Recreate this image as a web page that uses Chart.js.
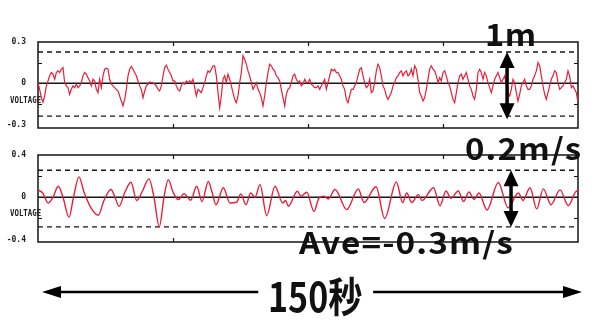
<!DOCTYPE html>
<html><head><meta charset="utf-8">
<script src="https://cdn.jsdelivr.net/npm/chart.js@4/dist/chart.umd.min.js"></script>
<style>
html,body{margin:0;padding:0;background:#fff;}
#wrap{position:relative;width:600px;height:322px;overflow:hidden;background:#fff;}
canvas{position:absolute;left:0;top:0;}
.lbl{position:absolute;font-family:'Noto Sans CJK JP','Noto Sans',sans-serif;font-weight:700;color:#111;line-height:1;white-space:nowrap;transform-origin:left top;}
.volt{position:absolute;font-family:'DejaVu Sans Mono',monospace;font-weight:bold;font-size:9px;color:#222;transform:scaleX(0.82);transform-origin:left center;line-height:1;}
</style></head><body>
<div id="wrap">
<canvas id="c1" width="600" height="322"></canvas>
<canvas id="c2" width="600" height="322"></canvas>
<div class="volt" style="left:10px;top:96px">VOLTAGE</div>
<div class="volt" style="left:10px;top:209px">VOLTAGE</div>
<div class="lbl" style="left:485px;top:17px;font-size:31px;letter-spacing:0.5px;transform:scaleX(1.05)">1m</div>
<div class="lbl" style="left:465px;top:132px;font-size:30px;letter-spacing:1px;transform:scaleX(1.1)">0.2m/s</div>
<div class="lbl" style="left:299px;top:226px;font-size:30px;letter-spacing:1px;transform:scaleX(1.11)">Ave=-0.3m/s</div>
<div class="lbl" style="left:268px;top:274px;font-size:41px;transform:scaleX(0.83)">150秒</div>
</div>
<script>
// ---- Data ----
const DURATION = 150; // seconds shown on the time axis

// upper trace (displacement, VOLTAGE), evenly sampled over 150 s, in four pieces
const TOP_SEG1 = [0.005,-0.044,-0.105,-0.136,-0.092,-0.019,0.017,0.054,0.078,0.066,
0.029,0.078,0.090,0.078,0.102,0.114,0.005,-0.019,-0.032,-0.080,
-0.044,-0.019,-0.032,-0.007,-0.032,-0.019,0.005,0.054,0.078,0.066,
0.041,0.017,-0.019,0.029,0.017,-0.044,-0.068,0.029,-0.032,0.054,
0.102,0.109,0.102,0.029,-0.007,-0.019,-0.032,-0.044,-0.056,-0.092,
-0.129,-0.165,-0.117,-0.044,0.054,0.102,0.122,0.102,0.078,0.054,
0.017,-0.019,-0.044,-0.105,-0.056,-0.019,-0.007,0.010,0.005,0.005,
-0.007,-0.019,-0.044,-0.056,-0.019,0.054,0.114,0.131,0.102,0.078,
0.054,0.017,0.017];
const TOP_SEG2 = [-0.019,-0.044,-0.056,-0.019,0.005,-0.007,0.017,0.005,0.017,0.005,
0.029,-0.032,-0.092,-0.044,-0.056,-0.068,-0.032,0.005,0.054,0.090,
0.078,0.102,0.127,0.127,0.054,-0.068,-0.178,-0.092,0.029,0.054,
0.005,0.066,0.029,-0.019,-0.068,-0.117,-0.141,-0.092,0.005,0.078,
0.200,0.175,0.139,0.090,0.054,0.005,-0.044,-0.019,0.005,-0.044,
-0.068,-0.105,-0.165,-0.092,0.005,0.078,0.139,0.127,0.102,0.090,
0.054,0.041,0.017,-0.044,-0.105,-0.165,-0.080,-0.044,-0.032,0.005,
0.054,0.066,0.029,0.005,0.017,-0.019,-0.007,0.029,0.005];
const TOP_SEG3 = [0.005,0.029,-0.007,-0.019,-0.032,-0.032,-0.019,-0.044,-0.019,0.005,
0.029,-0.044,0.005,0.054,0.102,0.090,0.102,0.078,0.078,0.054,
0.029,-0.019,-0.044,-0.117,-0.141,-0.092,-0.044,-0.044,-0.019,0.005,
0.054,0.102,0.114,0.054,0.005,-0.032,-0.019,0.029,-0.068,-0.056,
0.005,0.090,0.139,0.114,0.054,-0.019,-0.044,-0.092,-0.117,-0.092,
-0.068,-0.019,0.005,0.041,0.054,0.078,0.090,0.054,0.078,0.090,
0.054,0.066,0.102,0.054,0.127,0.102,0.029,-0.068,-0.092,-0.129,
-0.105,-0.044,0.029,0.102,0.127,0.102,0.090,0.054,0.005,0.041];
const TOP_SEG4 = [0.017,0.078,0.090,0.054,0.005,-0.019,-0.068,-0.117,-0.141,-0.068,
0.005,0.054,0.066,0.029,0.054,0.078,0.029,-0.019,-0.044,-0.092,
-0.117,-0.044,0.078,0.102,0.078,0.029,0.078,0.054,0.005,-0.032,
-0.068,-0.019,0.029,0.054,0.078,0.041,0.005,0.029,0.054,-0.019,
-0.068,-0.092,-0.044,0.029,0.005,-0.068,-0.129,-0.080,-0.019,0.005,
0.029,-0.019,-0.044,-0.044,-0.019,0.029,0.054,0.090,0.151,0.127,
0.054,-0.019,-0.080,-0.117,-0.068,-0.019,0.029,0.054,0.090,0.078,
0.005,-0.044,-0.032,-0.019,0.005,0.029,0.090,0.054,-0.032,-0.019,
-0.044,-0.068,-0.141];

// lower trace (velocity, VOLTAGE): times (s) and values read at turning points
const BOTTOM_TIMES = [0,1.31,2.86,4.17,5.64,6.94,8.61,9.86,11.39,12.78,14.72,16.75,18.33,20.28,21.39,22.5,24.17,25.83,27.42,28.89,
30.83,32.22,33.69,35.0,36.19,37.5,38.97,40.56,42.42,44.08,45.56,47.31,48.33,49.44,51.47,53.33,55.19,56.31,57.78,59.08,
60.28,61.67,63.53,65.83,67.97,68.75,69.53,72.03,73.06,74.64,76.67,78.06,79.44,80.64,82.5,85.75,88.97,90.56,93.89,96.31,
99.53,101.31,102.42,103.81,105.64,106.67,109.86,111.67,113.33,114.72,116.75,118.19,119.72,121.11,122.5,124.72,127.86,130.56,133.42,134.72,
136.67,138.53,140.36,142.5,145.0,147.31,149.64,150];
const BOTTOM_VALUES = [0.07,0.04,-0.054,0.0,0.104,0.0,-0.19,0.0,0.193,0.05,-0.1,-0.17,-0.03,0.073,0.0,-0.085,0.05,0.142,-0.03,0.05,
0.174,0.0,-0.28,0.0,0.167,0.05,-0.022,0.035,-0.028,0.104,-0.04,0.15,0.05,-0.07,0.09,-0.054,-0.047,0.032,-0.07,0.04,
0.0,0.12,-0.174,0.104,-0.054,-0.03,-0.085,0.057,0.01,0.047,-0.133,-0.006,0.01,-0.016,0.073,-0.117,0.079,-0.05,0.10,-0.2,
0.145,-0.05,0.04,-0.05,0.025,-0.03,0.09,-0.08,0.06,-0.01,0.06,-0.04,0.05,-0.02,0.04,-0.12,0.14,-0.1,0.04,-0.03,
0.09,-0.11,0.08,-0.07,0.07,-0.08,0.06,0.05];

// axes
const TOP_RANGE = [-0.325, 0.3];
const TOP_TICK_LABELS = [-0.3, 0, 0.3];
const TOP_MINOR = [-0.15, 0.15];
const TOP_LIMITS = [0.227, -0.239];      // dashed lines
const BOTTOM_RANGE = [-0.423, 0.4];
const BOTTOM_TICK_LABELS = [-0.4, 0, 0.4];
const BOTTOM_MINOR = [-0.2, 0.2];
const BOTTOM_LIMITS = [0.256, -0.28];    // dashed lines
const TIME_TICKS = [37.5, 75, 112.5];
const ARROW_TIMES = [130.3, 131.4];      // vertical amplitude arrows
const SPAN_GAP = [61.2, 93.1];           // gap in the 150 s arrow for its label

// ---- drawing ----
const RED = '#e81e3a';
const INK = '#151515';

const topValues = TOP_SEG1.concat(TOP_SEG2, TOP_SEG3, TOP_SEG4);
const dt = DURATION / (topValues.length - 1);
const topData = topValues.map((v, i) => ({x: i * dt, y: v}));
const bottomData = BOTTOM_TIMES.map((t, i) => ({x: t, y: BOTTOM_VALUES[i]}));

function hline(v) { return [{x: 0, y: v}, {x: DURATION, y: v}]; }

function drawArrowHead(ctx, x, y, dx, dy, len, half) {
  const bx = x - dx * len, by = y - dy * len;
  const nx = -dy, ny = dx;
  ctx.beginPath();
  ctx.moveTo(x, y);
  ctx.lineTo(bx + nx * half, by + ny * half);
  ctx.lineTo(bx - nx * half, by - ny * half);
  ctx.closePath();
  ctx.fill();
}

const framePlugin = {
  id: 'frame',
  beforeDatasetsDraw(chart, args, o) {
    const {ctx, chartArea: a, scales: {x, y}} = chart;
    ctx.save();
    ctx.strokeStyle = INK;
    ctx.lineWidth = 1.5;
    ctx.strokeRect(a.left, a.top, a.right - a.left, a.bottom - a.top);
    ctx.lineWidth = 1.2;
    ctx.beginPath();
    o.xTicks.forEach(t => {
      const px = Math.round(x.getPixelForValue(t)) + 0.5;
      ctx.moveTo(px, a.top); ctx.lineTo(px, a.top + 4);
      ctx.moveTo(px, a.bottom); ctx.lineTo(px, a.bottom - 4);
    });
    o.yTicks.forEach(v => {
      const py = Math.round(y.getPixelForValue(v)) + 0.5;
      ctx.moveTo(a.left, py); ctx.lineTo(a.left + 4, py);
      ctx.moveTo(a.right, py); ctx.lineTo(a.right - 4, py);
    });
    ctx.stroke();
    ctx.restore();
  },
  afterDraw(chart, args, o) {
    const {ctx, chartArea: a, scales: {x, y}} = chart;
    ctx.save();
    ctx.strokeStyle = '#000';
    ctx.fillStyle = '#000';
    const ax = x.getPixelForValue(o.arrowT);
    const y1 = y.getPixelForValue(o.limits[0]);
    const y2 = y.getPixelForValue(o.limits[1]) + o.arrowExtra;
    ctx.lineWidth = 3.5;
    ctx.beginPath(); ctx.moveTo(ax, y1 + 12); ctx.lineTo(ax, y2 - 12); ctx.stroke();
    drawArrowHead(ctx, ax, y1, 0, -1, 16, 7.5);
    drawArrowHead(ctx, ax, y2, 0, 1, 16, 7.5);
    if (o.span) {
      const yy = a.bottom + 50;
      const l = x.getPixelForValue(0) + 4, r = x.getPixelForValue(DURATION) + 4;
      const g1 = x.getPixelForValue(SPAN_GAP[0]), g2 = x.getPixelForValue(SPAN_GAP[1]);
      ctx.lineWidth = 2.5;
      ctx.beginPath();
      ctx.moveTo(l + 10, yy); ctx.lineTo(g1, yy);
      ctx.moveTo(g2, yy); ctx.lineTo(r - 10, yy);
      ctx.stroke();
      drawArrowHead(ctx, l, yy, -1, 0, 19, 6);
      drawArrowHead(ctx, r, yy, 1, 0, 19, 6);
    }
    ctx.restore();
  }
};

function makePanel(id, data, smooth, range, labels, minor, limits, padTop, padBottom, arrowT, arrowExtra, span) {
  return new Chart(document.getElementById(id), {
    type: 'line',
    data: {
      datasets: [
        {data: data, borderColor: RED, borderWidth: smooth ? 1.4 : 1.2, pointRadius: 0,
         tension: 0, cubicInterpolationMode: smooth ? 'monotone' : 'default'},
        {data: hline(0), borderColor: INK, borderWidth: 1.4, pointRadius: 0},
        {data: hline(limits[0]), borderColor: INK, borderWidth: 1.4, borderDash: [5, 4], pointRadius: 0},
        {data: hline(limits[1]), borderColor: INK, borderWidth: 1.4, borderDash: [5, 4], pointRadius: 0}
      ]
    },
    options: {
      responsive: false,
      animation: false,
      events: [],
      layout: {padding: {top: padTop, bottom: padBottom, left: 0, right: 22}},
      plugins: {
        legend: {display: false},
        tooltip: {enabled: false},
        frame: {xTicks: TIME_TICKS, yTicks: minor, arrowT: arrowT, limits: limits, arrowExtra: arrowExtra, span: span}
      },
      scales: {
        x: {type: 'linear', min: 0, max: DURATION, display: false},
        y: {
          min: range[0], max: range[1],
          grid: {display: false, drawTicks: false},
          border: {display: false},
          afterBuildTicks: s => { s.ticks = labels.map(v => ({value: v})); },
          afterFit: s => { s.width = 38; },
          ticks: {
            padding: 12,
            color: '#222',
            font: {family: 'DejaVu Sans Mono', size: 8, weight: 'bold'},
            callback: v => (v === 0 ? '0' : v.toFixed(1))
          }
        }
      }
    },
    plugins: [framePlugin]
  });
}

makePanel('c1', topData, false, TOP_RANGE, TOP_TICK_LABELS, TOP_MINOR, TOP_LIMITS, 42, 194, ARROW_TIMES[0], 3, false);
makePanel('c2', bottomData, true, BOTTOM_RANGE, BOTTOM_TICK_LABELS, BOTTOM_MINOR, BOTTOM_LIMITS, 155, 80, ARROW_TIMES[1], 0, true);
</script>
</body></html>
